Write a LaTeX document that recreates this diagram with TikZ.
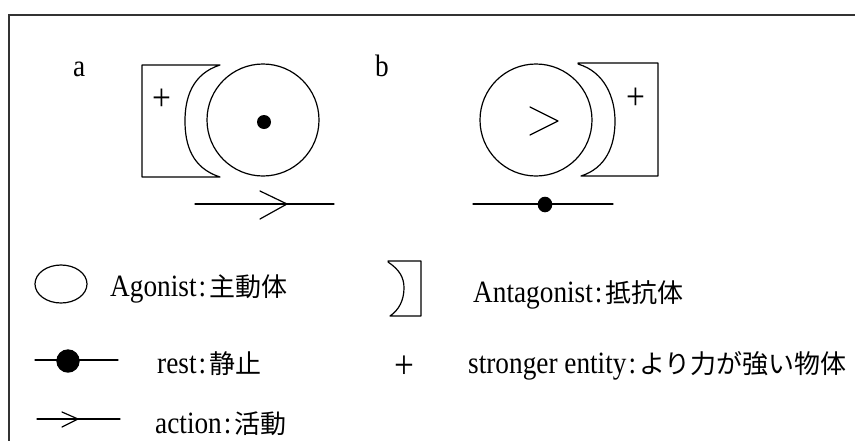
\documentclass[tikz,border=0pt]{standalone}
\usepackage{fontspec}
\setmainfont{Liberation Serif}[FakeStretch=0.88]
\newfontfamily\jpfont{Noto Sans CJK JP}
\newcommand\jptext[1]{{\jpfont\fontsize{26}{30}\selectfont #1}}
\newcommand\legendtext[2]{#1\kern2pt:\kern3pt\jptext{#2}}
\tikzset{
  fig/.style={line width=1.2pt, line join=round, line cap=round},
  frameline/.style={line width=1.4pt, draw=black!80},
  txt/.style={anchor=base west, inner sep=0pt, font=\fontsize{31}{36}\selectfont},
  plussign/.style={inner sep=0pt, font=\fontsize{38}{40}\selectfont},
  dotmark/.style={fill=black},
}
\begin{document}
\begin{tikzpicture}[x=1pt, y=-1pt]
\useasboundingbox (0,0) rectangle (855,440);
\begin{scope}
\clip (0,0) rectangle (855,440);
% frame (right and bottom sides beyond the picture)
\draw[frameline] (9,460) -- (9,15) -- (880,15);

% ---------- panel a ----------
\node[txt] (la) at (73,76) {a};
\draw[fig] (220,65) -- (142,65) -- (142,177) -- (220,177)
  .. controls (192,168) and (185,145) .. (185,121)
  .. controls (185,98) and (192,74) .. (220,65);
\node[plussign] (pa) at (162,100) {+};
\draw[fig] (263,120) circle [radius=56pt];
\fill[dotmark] (264,122) circle [radius=7pt];
\draw[fig] (195,204) -- (334,204);
\draw[fig] (260,191) -- (287,204) -- (260,219);

% ---------- panel b ----------
\node[txt] (lb) at (375,76) {b};
\draw[fig] (536,120) circle [radius=56pt];
\draw[fig] (530,107) -- (558,121) -- (530,135);
\draw[fig] (578,64) .. controls (605,72) and (615,98) .. (615,121)
  .. controls (615,146) and (606,168) .. (581,176)
  -- (658,176) -- (658,63) -- (578,63);
\node[plussign] (pb) at (636,99) {+};
\draw[fig] (473,204) -- (613,204);
\fill[dotmark] (545,204.5) ellipse [x radius=7.3pt, y radius=7.8pt];

% ---------- legend ----------
\draw[fig] (61,284) ellipse [x radius=26pt, y radius=19pt];
\node[txt] (tag) at (110,296) {\legendtext{Agonist}{主動体}};

\draw[fig] (388,262) .. controls (400,270) and (404,278) .. (404,288)
  .. controls (404,300) and (399,310) .. (390,316)
  -- (421,316) -- (421,261) -- (388,261);
\node[txt] (tant) at (473,302) {\legendtext{Antagonist}{抵抗体}};

\draw[fig] (35,360) -- (118,360);
\fill[dotmark] (68,361) circle [radius=11.7pt];
\node[txt] (trest) at (157,373) {\legendtext{rest}{静止}};

\node[plussign, font=\fontsize{40}{42}\selectfont] (pl) at (404,367) {+};
\node[txt] (tstr) at (468,373) {\legendtext{stronger entity}{より力が強い物体}};

\draw[fig] (37,419) -- (120,419);
\draw[fig] (62,412) -- (78,419) -- (62,427);
\node[txt] (tact) at (155,433) {\legendtext{action}{活動}};
\end{scope}
\end{tikzpicture}
\end{document}
